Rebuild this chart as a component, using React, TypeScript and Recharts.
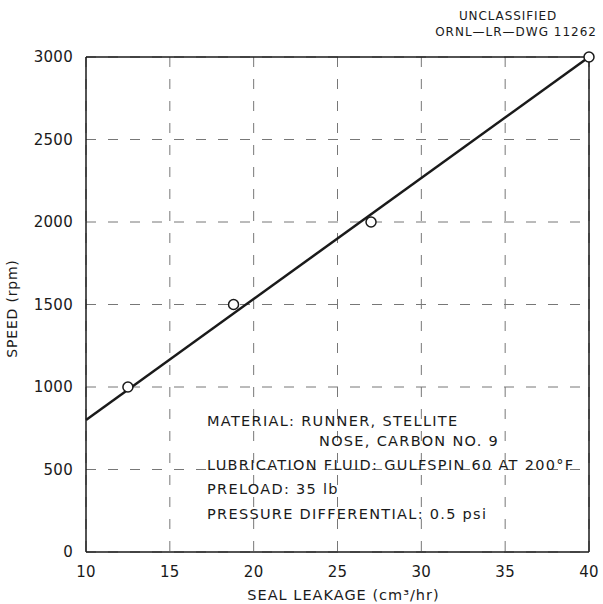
import React from "react";
import {
  ComposedChart,
  Line,
  Scatter,
  XAxis,
  YAxis,
  CartesianGrid,
  ReferenceLine,
  Customized,
} from "recharts";

// measured points
const leakage = [12.5, 18.8, 27.0, 40.0];
const speed = [1000, 1500, 2000, 3000];

// fitted straight line, read at the frame edges
const fitLeakage = [10, 40];
const fitSpeed = [800, 3000];

const xTicks = [10, 15, 20, 25, 30, 35, 40];
const yTicks = [0, 500, 1000, 1500, 2000, 2500, 3000];

const noteLines = [
  "MATERIAL: RUNNER, STELLITE",
  "NOSE, CARBON NO. 9",
  "LUBRICATION FLUID: GULFSPIN 60 AT 200\u00b0F",
  "PRELOAD: 35 lb",
  "PRESSURE DIFFERENTIAL: 0.5 psi",
];

const points = leakage.map((x, i) => ({ x, y: speed[i] }));
const fit = fitLeakage.map((x, i) => ({ x, fy: fitSpeed[i] }));

const FONT = "'DejaVu Sans', sans-serif";
const INK = "#1a1a1a";

const Notes = () => (
  <g fontFamily={FONT} fill={INK}>
    <text x={508} y={20} textAnchor="middle" fontSize={12} letterSpacing={0.9}>UNCLASSIFIED</text>
    <text x={597} y={36} textAnchor="end" fontSize={12} letterSpacing={1}>{"ORNL\u2014LR\u2014DWG 11262"}</text>
    <g fontSize={14.5} letterSpacing={1.3}>
      <text x={207} y={426}>{noteLines[0]}</text>
      <text x={319} y={446}>{noteLines[1]}</text>
      <text x={207} y={470}>{noteLines[2]}</text>
      <text x={207} y={494}>{noteLines[3]}</text>
      <text x={207} y={519}>{noteLines[4]}</text>
    </g>
  </g>
);

const Ring = (props: any) => (
  <circle cx={props.cx} cy={props.cy} r={5} fill="#fff" stroke={INK} strokeWidth={1.5} />
);

export default function App() {
  const tick = { fill: INK, fontSize: 15, fontFamily: FONT, letterSpacing: 0.3 };
  return (
    <div style={{ position: "absolute", left: 0, top: 0, background: "#fff" }}>
      <ComposedChart width={603} height={604} margin={{ top: 57, right: 14, bottom: 0, left: 0 }}>
        <CartesianGrid stroke="#777" strokeDasharray="10 12" strokeWidth={1} />
        <XAxis
          type="number"
          dataKey="x"
          domain={[10, 40]}
          ticks={xTicks}
          height={52}
          tick={tick}
          tickSize={0}
          tickMargin={14}
          axisLine={{ stroke: INK, strokeWidth: 1.5 }}
          label={{ value: "SEAL LEAKAGE (cm\u00b3/hr)", position: "insideBottom", offset: 4, fill: INK, fontSize: 14.5, fontFamily: FONT, letterSpacing: 1, dx: 6 }}
        />
        <YAxis
          type="number"
          domain={[0, 3000]}
          ticks={yTicks}
          width={86}
          tick={tick}
          tickSize={0}
          tickMargin={13}
          axisLine={{ stroke: INK, strokeWidth: 1.5 }}
          label={{ value: "SPEED (rpm)", angle: -90, position: "insideLeft", offset: 12, dy: 4, fill: INK, fontSize: 14, fontFamily: FONT, letterSpacing: 0.8, style: { textAnchor: "middle" } }}
        />
        <ReferenceLine x={40} stroke={INK} strokeWidth={1.5} />
        <ReferenceLine y={3000} stroke={INK} strokeWidth={1.5} />
        <Line
          data={fit}
          dataKey="fy"
          type="linear"
          stroke={INK}
          strokeWidth={2.5}
          dot={false}
          activeDot={false}
          isAnimationActive={false}
        />
        <Scatter data={points} dataKey="y" shape={<Ring />} isAnimationActive={false} />
        <Customized component={Notes} />
      </ComposedChart>
    </div>
  );
}
